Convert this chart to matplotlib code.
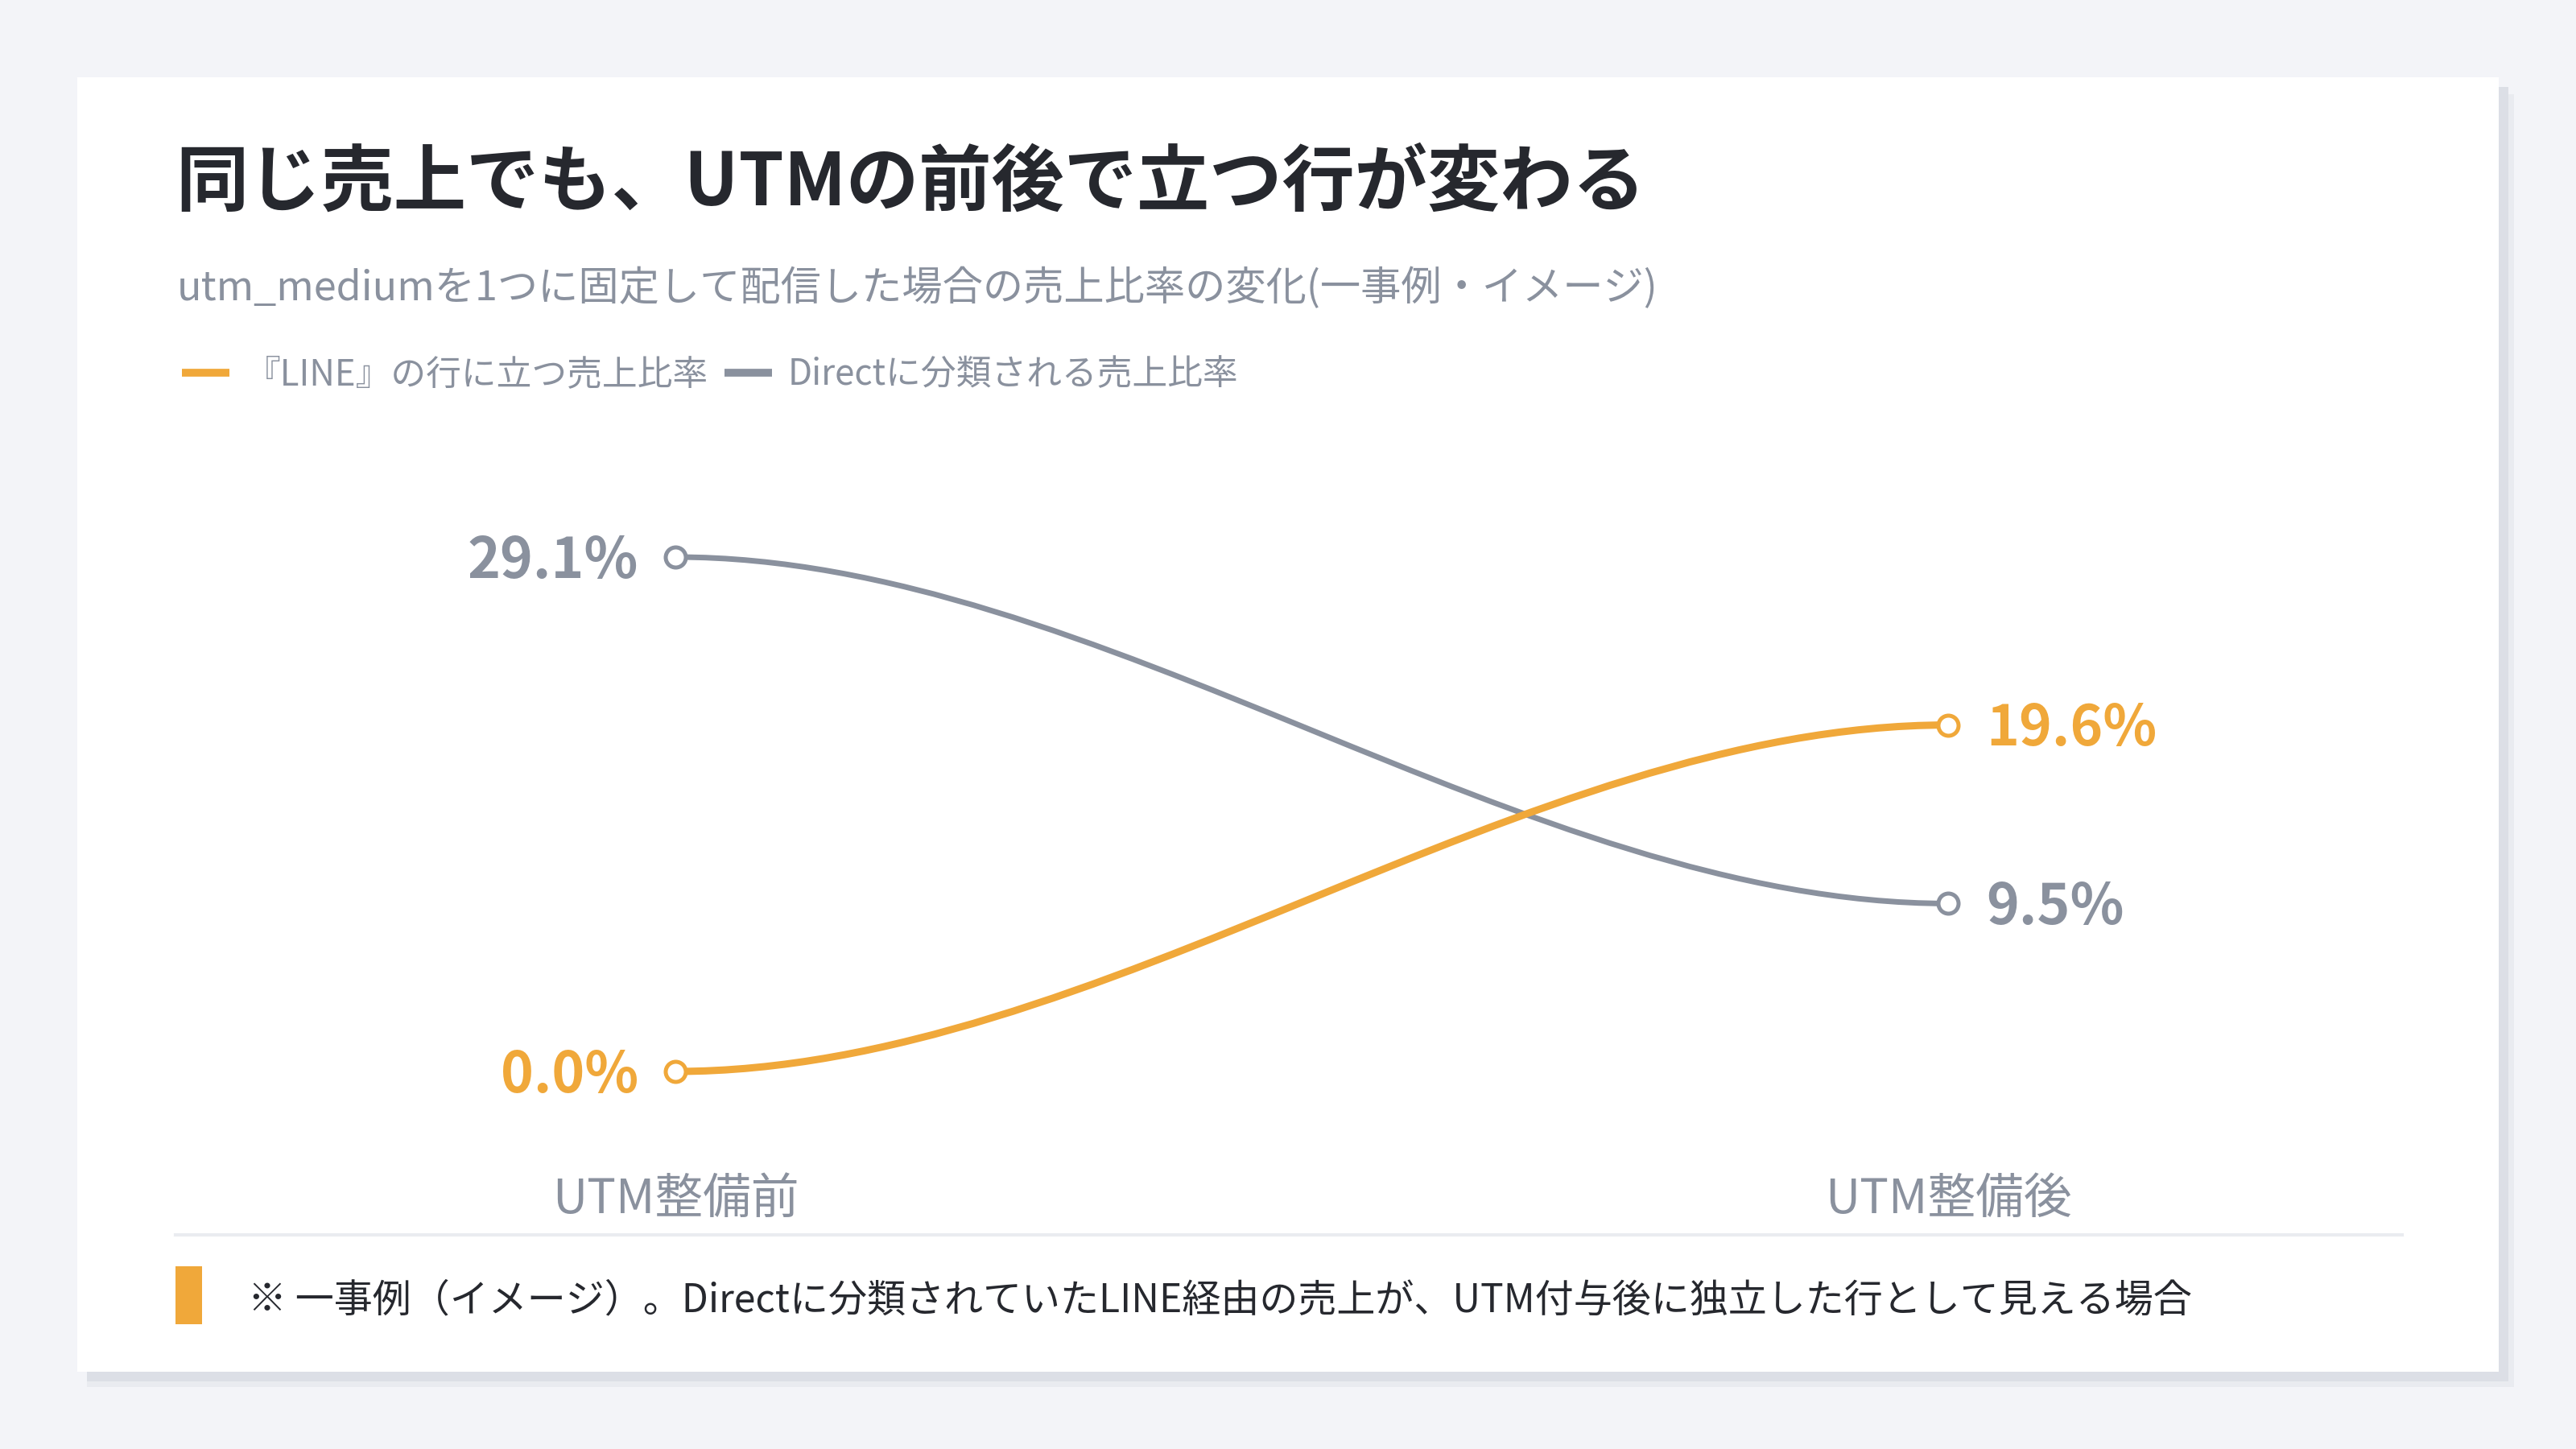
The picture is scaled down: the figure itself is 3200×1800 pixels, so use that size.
import matplotlib
matplotlib.use("Agg")
import matplotlib.pyplot as plt
from matplotlib.path import Path
from matplotlib.patches import PathPatch, Rectangle
from matplotlib.lines import Line2D

# data
categories = ["UTM整備前", "UTM整備後"]
line_share = [0.0, 19.6]      # 『LINE』の行に立つ売上比率 (%)
direct_share = [29.1, 9.5]    # Directに分類される売上比率 (%)
series_names = ["『LINE』の行に立つ売上比率", "Directに分類される売上比率"]

title = "同じ売上でも、UTMの前後で立つ行が変わる"
subtitle = "utm_mediumを1つに固定して配信した場合の売上比率の変化(一事例・イメージ)"
footnote = "※ 一事例（イメージ）。Directに分類されていたLINE経由の売上が、UTM付与後に独立した行として見える場合"

ORANGE = "#f0a83a"
GRAY = "#8a919e"
DARK = "#26282e"
BG = "#f3f4f8"

plt.rcParams["font.family"] = ["Noto Sans CJK JP", "DejaVu Sans"]

W, H = 3200, 1800
fig = plt.figure(figsize=(32, 18), dpi=100, facecolor=BG)


def fx(px):
    return px / W


def fy(py):
    return 1 - py / H


# card with shadow (kept below the axes)
fig.patches.append(Rectangle((fx(108), fy(1723)), fx(3123 - 108), (1723 - 117) / H,
                             transform=fig.transFigure, facecolor="#e9ebf0", edgecolor="none", zorder=-3))
fig.patches.append(Rectangle((fx(108), fy(1716)), fx(3116 - 108), (1716 - 108) / H,
                             transform=fig.transFigure, facecolor="#dcdfe6", edgecolor="none", zorder=-2))
fig.patches.append(Rectangle((fx(96), fy(1704)), fx(3104 - 96), (1704 - 96) / H,
                             transform=fig.transFigure, facecolor="white", edgecolor="none", zorder=-1))

# title block
fig.text(fx(218), fy(228), title, fontsize=65, fontweight="bold", color=DARK, va="center", ha="left")
fig.text(fx(220), fy(359), subtitle, fontsize=36.2, color=GRAY, va="center", ha="left")

handles = [Line2D([], [], color=ORANGE, lw=7, solid_capstyle="butt"),
           Line2D([], [], color=GRAY, lw=7, solid_capstyle="butt")]
fig.legend(handles, series_names, loc="center left", bbox_to_anchor=(fx(226), fy(465)),
           ncol=2, frameon=False, fontsize=31.5, labelcolor=GRAY, handlelength=1.35,
           handletextpad=0.45, columnspacing=0.45, borderpad=0, borderaxespad=0)

# plot area: x=0 -> px 839, x=1 -> px 2420 ; y=0 -> py 1331, y=29.1 -> py 692
x0_px, x1_px = 839, 2420
ppx = x1_px - x0_px
ppy = (1331 - 692) / 29.1
ax_left, ax_right, ax_top, ax_bot = 218, 2984, 560, 1400
ax = fig.add_axes([fx(ax_left), fy(ax_bot), fx(ax_right - ax_left), (ax_bot - ax_top) / H])
ax.set_xlim((ax_left - x0_px) / ppx, (ax_right - x0_px) / ppx)
ax.set_ylim((1331 - ax_bot) / ppy, (1331 - ax_top) / ppy)
ax.set_facecolor("none")
ax.axis("off")

xs = [0, 1]


def smooth_line(ys, color, lw):
    # cubic with flat ends, control points at 1/3 and 2/3 of the span
    dx = xs[1] - xs[0]
    verts = [(xs[0], ys[0]), (xs[0] + dx / 3, ys[0]), (xs[1] - dx / 3, ys[1]), (xs[1], ys[1])]
    codes = [Path.MOVETO, Path.CURVE4, Path.CURVE4, Path.CURVE4]
    ax.add_patch(PathPatch(Path(verts, codes), facecolor="none", edgecolor=color, lw=lw,
                           capstyle="round", zorder=3))
    ax.plot(xs, ys, linestyle="none", marker="o", markersize=18, markerfacecolor="white",
            markeredgecolor=color, markeredgewidth=3.6, zorder=4, clip_on=False)


smooth_line(direct_share, GRAY, 5)
smooth_line(line_share, ORANGE, 6.5)

for ys, color in [(direct_share, GRAY), (line_share, ORANGE)]:
    ax.annotate(f"{ys[0]:.1f}%", (xs[0], ys[0]), xytext=(-33, -4), textcoords="offset points",
                ha="right", va="center", fontsize=50, fontweight="bold", color=color)
    ax.annotate(f"{ys[1]:.1f}%", (xs[1], ys[1]), xytext=(34, -4), textcoords="offset points",
                ha="left", va="center", fontsize=50, fontweight="bold", color=color)

for x, lab in zip(xs, categories):
    ax.text(x, (ax_bot - 1490) / (ax_bot - ax_top), lab, transform=ax.get_xaxis_transform(),
            ha="center", va="center", fontsize=43, color=GRAY)

# separator and footnote
fig.add_artist(Line2D([fx(218), fx(2984)], [fy(1534), fy(1534)], color="#eaecf0", lw=3))
fig.patches.append(Rectangle((fx(218), fy(1645)), fx(33), 72 / H, transform=fig.transFigure,
                             facecolor=ORANGE, edgecolor="none", zorder=2))
fig.text(fx(308), fy(1616), footnote, fontsize=34.6, color=DARK, va="center", ha="left")

fig.savefig("out.png", dpi=100, facecolor=BG)
